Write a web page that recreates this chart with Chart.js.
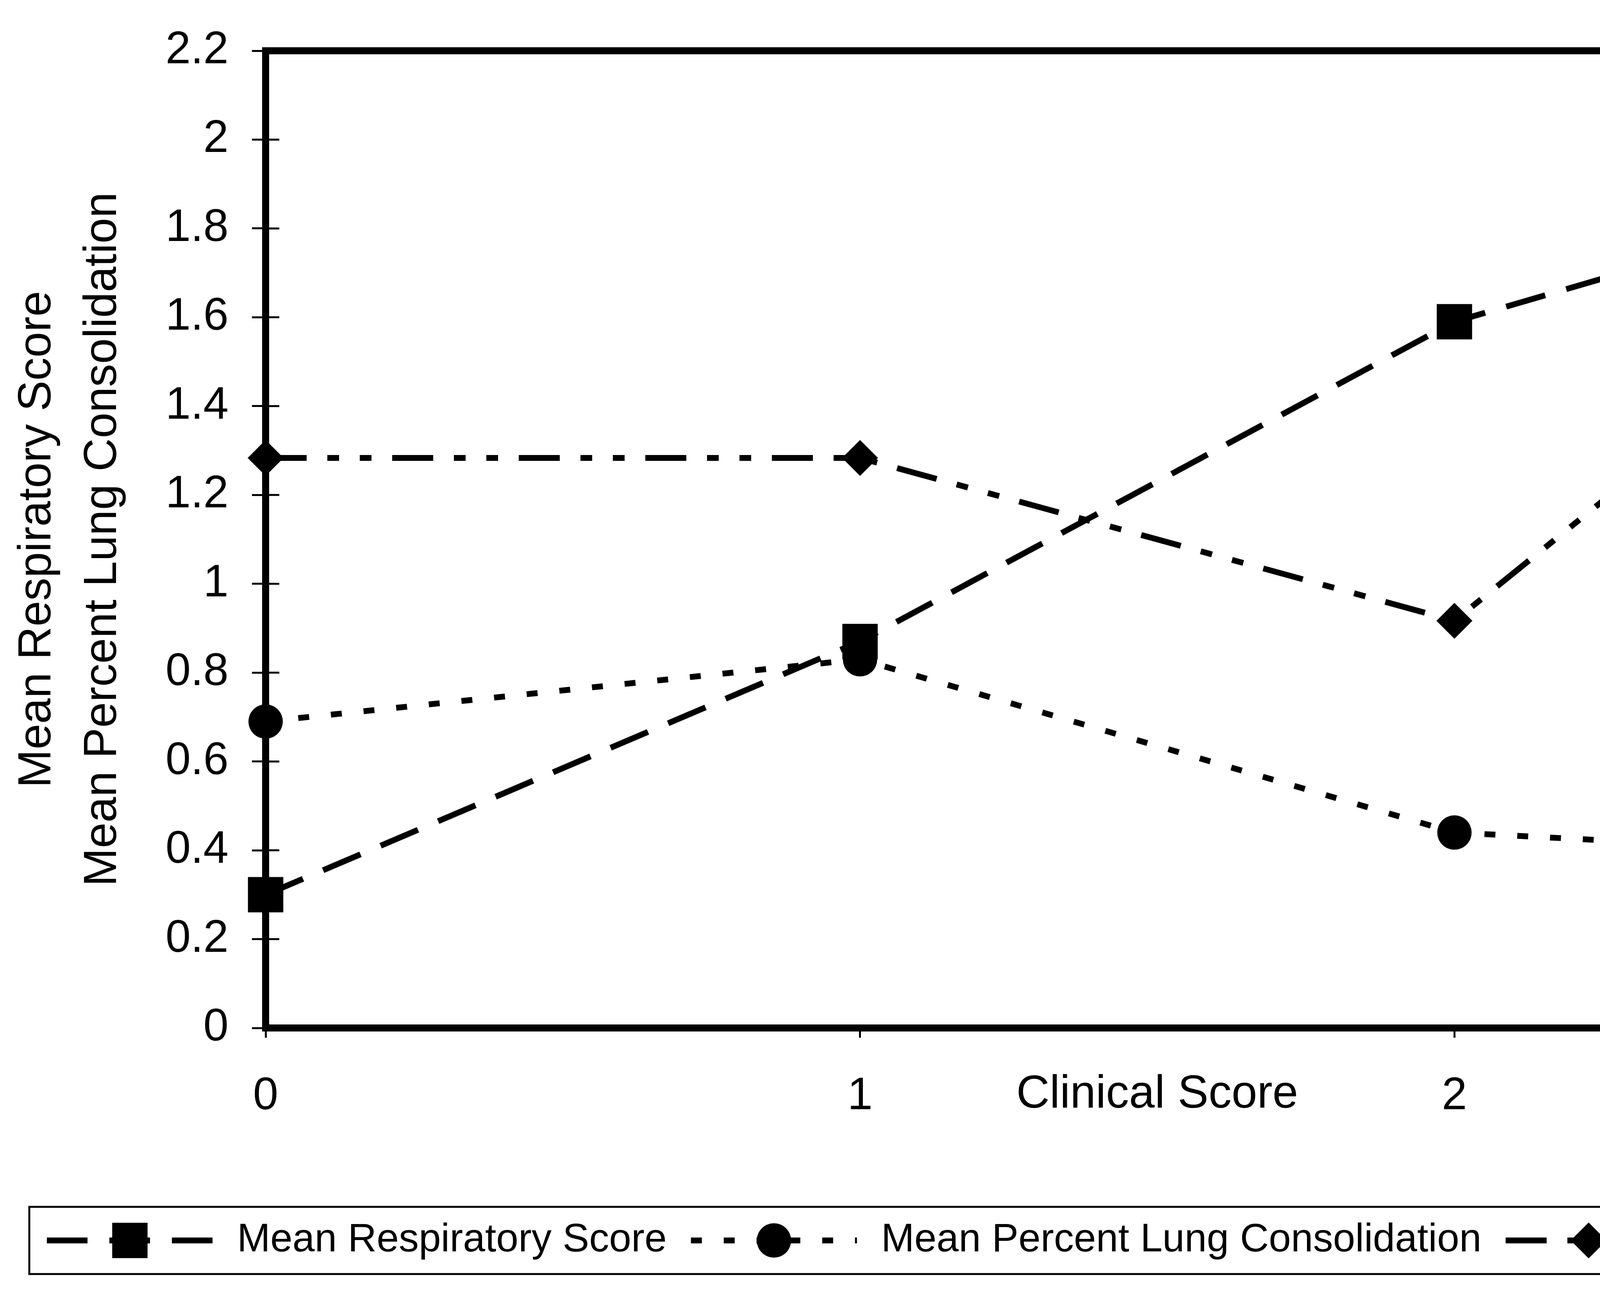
<!DOCTYPE html>
<html>
<head>
<meta charset="utf-8">
<title>Clinical score vs respiratory score, lung consolidation and temperature</title>
<script src="https://cdn.jsdelivr.net/npm/chart.js@4.4.1/dist/chart.umd.min.js"></script>
<style>
  html, body { margin: 0; padding: 0; background: #fff; }
  canvas { display: block; }
</style>
</head>
<body>
<canvas id="clinicalChart" width="5844" height="3308"></canvas>
<script>
// values
const clinicalScores = ['0', '1', '2', '3'];
const respiratoryScore = [0.30, 0.87, 1.59, 1.98];
const lungConsolidation = [0.69, 0.83, 0.44, 0.37];
const rectalTemperature = [39.5, 39.5, 39.3, 39.89];
const leftTicks = [0, 0.2, 0.4, 0.6, 0.8, 1, 1.2, 1.4, 1.6, 1.8, 2, 2.2];
const rightTicks = [38.8, 39, 39.2, 39.4, 39.6, 39.8, 40];

const FONT = "'Liberation Sans', Arial, sans-serif";
Chart.defaults.font.family = FONT;
Chart.defaults.color = '#000';

// inner half of the cross ticks on both value axes
const innerTicks = {
  id: 'innerTicks',
  beforeDatasetsDraw(chart) {
    const ctx = chart.ctx;
    ctx.save();
    ctx.strokeStyle = '#000';
    ctx.lineWidth = 5;
    ['y', 'y1'].forEach(id => {
      const s = chart.scales[id];
      const edge = id === 'y' ? chart.chartArea.left : chart.chartArea.right;
      const dir = id === 'y' ? 1 : -1;
      s.ticks.forEach((t, i) => {
        const py = s.getPixelForTick(i);
        ctx.beginPath();
        ctx.moveTo(edge, py);
        ctx.lineTo(edge + dir * 35, py);
        ctx.stroke();
      });
    });
    ctx.restore();
  }
};

// right axis title reads bottom to top, chart.js would rotate it the other way
const rightTitle = {
  id: 'rightTitle',
  afterDraw(chart) {
    const ctx = chart.ctx;
    ctx.save();
    ctx.translate(5737, 1270);
    ctx.rotate(-Math.PI / 2);
    ctx.font = '118px ' + FONT;
    ctx.fillStyle = '#000';
    ctx.textAlign = 'center';
    ctx.textBaseline = 'middle';
    ctx.fillText('Mean Rectal Temperature', 0, 0);
    ctx.restore();
  }
};

// boxed legend with line sample + marker, like the original
const boxLegend = {
  id: 'boxLegend',
  afterDraw(chart) {
    const ctx = chart.ctx;
    const box = { left: 75, top: 3090, right: 5544, bottom: 3262 };
    const midY = (box.top + box.bottom) / 2;
    ctx.save();
    ctx.strokeStyle = '#000';
    ctx.lineWidth = 5;
    ctx.strokeRect(box.left, box.top, box.right - box.left, box.bottom - box.top);
    ctx.font = '102px ' + FONT;
    ctx.textBaseline = 'middle';
    let x = box.left + 45;
    chart.data.datasets.forEach(ds => {
      const sample = 425;
      ctx.save();
      ctx.lineWidth = ds.borderWidth;
      ctx.setLineDash(ds.borderDash);
      ctx.beginPath();
      ctx.moveTo(x, midY);
      ctx.lineTo(x + sample, midY);
      ctx.stroke();
      ctx.restore();
      ctx.fillStyle = '#000';
      Chart.helpers.drawPoint(ctx, { pointStyle: ds.pointStyle, radius: ds.pointRadius, borderWidth: 0, rotation: 0 }, x + sample / 2, midY);
      ctx.fillStyle = '#000';
      ctx.fillText(ds.label, x + sample + 62, midY);
      x += sample + 62 + ctx.measureText(ds.label).width + 62;
    });
    ctx.restore();
  }
};

const ctx = document.getElementById('clinicalChart').getContext('2d');
const myChart = new Chart(ctx, {
  type: 'line',
  data: {
    labels: clinicalScores,
    datasets: [
      {
        label: 'Mean Respiratory Score',
        data: respiratoryScore,
        yAxisID: 'y',
        borderColor: '#000',
        borderWidth: 15,
        borderDash: [104, 56],
        pointStyle: 'rect',
        pointRadius: 64,
        pointBackgroundColor: '#000',
        pointBorderWidth: 0,
        tension: 0,
        clip: false
      },
      {
        label: 'Mean Percent Lung Consolidation',
        data: lungConsolidation,
        yAxisID: 'y',
        borderColor: '#000',
        borderWidth: 15,
        borderDash: [28, 56],
        pointStyle: 'circle',
        pointRadius: 44,
        pointBackgroundColor: '#000',
        pointBorderWidth: 0,
        tension: 0,
        clip: false
      },
      {
        label: 'Mean Rectal Temperature',
        data: rectalTemperature,
        yAxisID: 'y1',
        borderColor: '#000',
        borderWidth: 15,
        borderDash: [105, 53, 30, 53, 30, 53],
        pointStyle: 'rectRot',
        pointRadius: 46,
        pointBackgroundColor: '#000',
        pointBorderWidth: 0,
        tension: 0,
        clip: false
      }
    ]
  },
  options: {
    responsive: false,
    animation: false,
    devicePixelRatio: 1,
    layout: { padding: { top: 130, left: 0, right: 0, bottom: 0 } },
    plugins: {
      legend: { display: false },
      tooltip: { enabled: false }
    },
    scales: {
      x: {
        type: 'category',
        position: 'bottom',
        offset: false,
        grid: { display: true, drawOnChartArea: false, drawTicks: true, tickLength: 25, tickWidth: 5, tickColor: '#000' },
        border: { display: true, color: '#000', width: 18 },
        ticks: { padding: 81, font: { size: 116 }, color: '#000', maxRotation: 0, autoSkip: false },
        title: { display: true, text: 'Clinical Score', font: { size: 118 }, color: '#000', padding: { top: 0, bottom: 434 } },
        afterFit: s => { s.height = 676; }
      },
      xTop: {
        type: 'category',
        position: 'top',
        offset: false,
        grid: { display: false },
        ticks: { display: false },
        border: { display: true, color: '#000', width: 18 },
        afterFit: s => { s.height = 0; }
      },
      y: {
        position: 'left',
        min: 0,
        max: 2.2,
        afterBuildTicks: s => { s.ticks = leftTicks.map(v => ({ value: v })); },
        grid: { display: true, drawOnChartArea: false, drawTicks: true, tickLength: 35, tickWidth: 5, tickColor: '#000' },
        border: { display: true, color: '#000', width: 18 },
        ticks: { padding: 60, font: { size: 116 }, color: '#000', callback: v => String(v) },
        title: {
          display: true,
          text: ['Mean Respiratory Score', 'Mean Percent Lung Consolidation'],
          font: { size: 118, lineHeight: 1.42 },
          color: '#000',
          padding: { top: 13, bottom: 0 }
        },
        afterFit: s => { s.width = 680; }
      },
      y1: {
        position: 'right',
        min: 38.8,
        max: 40,
        afterBuildTicks: s => { s.ticks = rightTicks.map(v => ({ value: v })); },
        grid: { display: true, drawOnChartArea: false, drawTicks: true, tickLength: 35, tickWidth: 5, tickColor: '#000' },
        border: { display: true, color: '#000', width: 18 },
        ticks: { padding: 57, font: { size: 116 }, color: '#000', callback: v => String(v) },
        afterFit: s => { s.width = 599; }
      }
    }
  },
  plugins: [innerTicks, rightTitle, boxLegend]
});
</script>
</body>
</html>
